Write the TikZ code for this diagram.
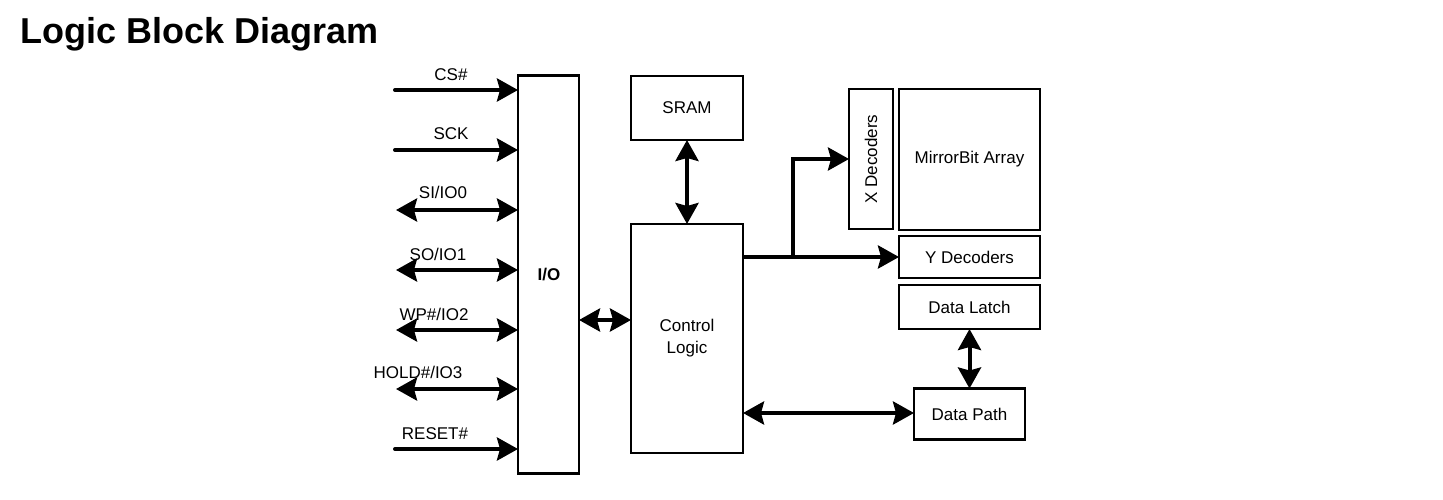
\documentclass[tikz,border=0pt]{standalone}
\usepackage{fontspec}
\setmainfont{Liberation Sans}
\usetikzlibrary{arrows.meta,calc}
\begin{document}
\begin{tikzpicture}[x=1pt,y=-1pt,
  blk/.style={draw,line width=2.8pt,inner sep=0pt,outer sep=0pt,align=center,font=\fontsize{17}{22}\selectfont},
  conn/.style={line width=4pt,-{Stealth[length=21pt,width=23pt,inset=3pt]}},
  bidir/.style={line width=4pt,{Stealth[length=21pt,width=23pt,inset=3pt]}-{Stealth[length=21pt,width=23pt,inset=3pt]}},
  lbl/.style={font=\fontsize{17}{20}\selectfont,inner sep=0pt}]
\useasboundingbox (0,0) rectangle (1443,500);
\node[anchor=base west,font=\fontsize{36}{40}\selectfont\bfseries,inner sep=0pt] (title) at (20,44) {Logic Block Diagram};
% boxes
\node[blk,minimum width=61pt,minimum height=398pt] (io) at (548.5,274.5) {};
\node[font=\fontsize{17}{20}\selectfont\bfseries] (iolbl) at (549,275) {I/O};
\node[blk,minimum width=112pt,minimum height=64pt] (sram) at (687,108) {SRAM};
\node[blk,minimum width=112pt,minimum height=229pt] (ctrl) at (687,338.5) {Control\\Logic};
\node[blk,minimum width=44pt,minimum height=140pt] (xdec) at (871,159) {};
\node[lbl,rotate=90] (xdeclbl) at (871,159) {X Decoders};
\node[blk,minimum width=141pt,minimum height=141pt] (array) at (969.5,159.5) {MirrorBit Array};
\node[blk,minimum width=141pt,minimum height=42pt] (ydec) at (969.5,257) {Y Decoders};
\node[blk,minimum width=141pt,minimum height=44pt] (latch) at (969.5,307) {Data Latch};
\node[blk,minimum width=111pt,minimum height=51pt] (dpath) at (969.5,414) {Data Path};
% left signals
\coordinate (s1) at (395,90);
\coordinate (s2) at (395,150);
\coordinate (s3) at (396,210);
\coordinate (s4) at (396,270);
\coordinate (s5) at (396,330);
\coordinate (s6) at (396,389);
\coordinate (s7) at (395,449);
\draw[conn,line cap=round] (s1) -- (s1 -| io.west);
\draw[conn,line cap=round] (s2) -- (s2 -| io.west);
\draw[bidir] (s3) -- (s3 -| io.west);
\draw[bidir] (s4) -- (s4 -| io.west);
\draw[bidir] (s5) -- (s5 -| io.west);
\draw[bidir] (s6) -- (s6 -| io.west);
\draw[conn,line cap=round] (s7) -- (s7 -| io.west);
\node[lbl] (l1) at (451,75) {CS\#};
\node[lbl] (l2) at (451,134) {SCK};
\node[lbl] (l3) at (443,192) {SI/IO0};
\node[lbl] (l4) at (438,254) {SO/IO1};
\node[lbl] (l5) at (434,314) {WP\#/IO2};
\node[lbl] (l6) at (418,372) {HOLD\#/IO3};
\node[lbl] (l7) at (435,434) {RESET\#};
% internal connectors
\coordinate (ioc) at (579,320);
\draw[bidir] (ioc -| io.east) -- (ioc -| ctrl.west);
\draw[bidir] (sram.south) -- (ctrl.north);
\coordinate (cy) at (743,257);
\coordinate (br) at (793,257);
\draw[conn] (cy -| ctrl.east) -- (ydec.west);
\draw[conn] (br) -- (br |- xdec.west) -- (xdec.west);
\coordinate (cd) at (743,413);
\draw[bidir] (cd -| ctrl.east) -- (cd -| dpath.west);
\draw[bidir] (latch.south) -- (dpath.north);
\end{tikzpicture}
\end{document}
